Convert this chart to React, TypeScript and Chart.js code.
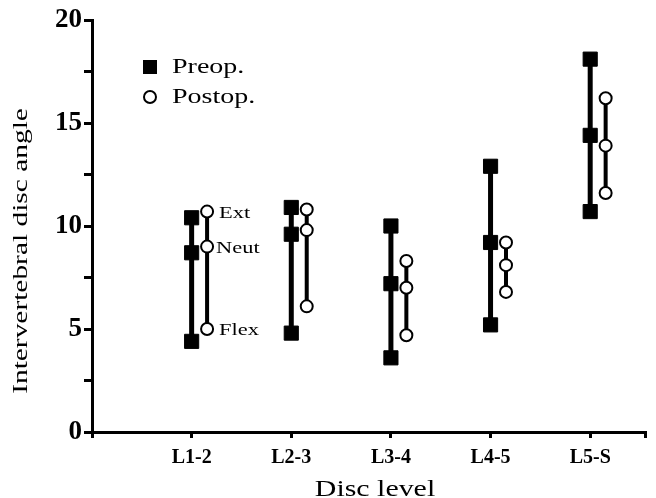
import { useEffect, useRef } from 'react';
import { Chart, registerables } from 'chart.js';

Chart.register(...registerables);

const categories = ['L1-2', 'L2-3', 'L3-4', 'L4-5', 'L5-S'];
const preopExt = [10.4, 10.9, 10.0, 12.9, 18.1];
const preopNeut = [8.7, 9.6, 7.2, 9.2, 14.4];
const preopFlex = [4.4, 4.8, 3.6, 5.2, 10.7];
const postopExt = [10.7, 10.8, 8.3, 9.2, 16.2];
const postopNeut = [9.0, 9.8, 7.0, 8.1, 13.9];
const postopFlex = [5.0, 6.1, 4.7, 6.8, 11.6];
const positionLabels = ['Ext', 'Neut', 'Flex'];
const seriesNames = ['Preop.', 'Postop.'];

const FONT = "'Liberation Serif', 'Times New Roman', serif";
const POSTOP_OFFSET = 0.155;
const X_MAX = 5.55;

function drawStretched(ctx: CanvasRenderingContext2D, text: string, x: number, y: number, font: string, sx: number, align: CanvasTextAlign) {
  ctx.save();
  ctx.translate(x, y);
  ctx.scale(sx, 1);
  ctx.font = font;
  ctx.textAlign = align;
  ctx.textBaseline = 'alphabetic';
  ctx.fillText(text, 0, 0);
  ctx.restore();
}

const overlayPlugin = {
  id: 'overlay',
  afterDraw(chart: any) {
    const ctx: CanvasRenderingContext2D = chart.ctx;
    const xs = chart.scales.x;
    const ys = chart.scales.y;
    ctx.save();
    ctx.fillStyle = '#000';
    ctx.strokeStyle = '#000';

    // y title
    ctx.save();
    ctx.translate(27, 251);
    ctx.rotate(-Math.PI / 2);
    ctx.scale(1.4, 1);
    ctx.font = `21px ${FONT}`;
    ctx.textAlign = 'center';
    ctx.textBaseline = 'alphabetic';
    ctx.fillText('Intervertebral disc angle', 0, 0);
    ctx.restore();

    // x title
    drawStretched(ctx, 'Disc level', 375, 496, `23px ${FONT}`, 1.3, 'center');

    // legend
    ctx.fillRect(143, 60, 14, 14);
    drawStretched(ctx, seriesNames[0], 172, 73, `20px ${FONT}`, 1.4, 'left');
    ctx.beginPath();
    ctx.arc(150, 97, 6, 0, Math.PI * 2);
    ctx.fillStyle = '#fff';
    ctx.fill();
    ctx.lineWidth = 2;
    ctx.stroke();
    ctx.fillStyle = '#000';
    drawStretched(ctx, seriesNames[1], 172, 103, `20px ${FONT}`, 1.4, 'left');

    // position annotations next to first postop group
    const px = xs.getPixelForValue(1 + POSTOP_OFFSET);
    const vals = [postopExt[0], postopNeut[0], postopFlex[0]];
    const dx = [12, 9, 12];
    vals.forEach((v, i) => {
      const py = ys.getPixelForValue(v);
      drawStretched(ctx, positionLabels[i], px + dx[i], py + 6, `16px ${FONT}`, 1.4, 'left');
    });
    ctx.restore();
  },
};

export default function App() {
  const ref = useRef<HTMLCanvasElement | null>(null);

  useEffect(() => {
    if (!ref.current) return;
    const datasets: any[] = [];
    categories.forEach((_, i) => {
      datasets.push({
        label: `${seriesNames[0]} ${categories[i]}`,
        data: [
          { x: i + 1, y: preopExt[i] },
          { x: i + 1, y: preopNeut[i] },
          { x: i + 1, y: preopFlex[i] },
        ],
        showLine: true,
        borderColor: '#000',
        borderWidth: 5,
        pointStyle: 'rect',
        pointRadius: 10,
        pointBackgroundColor: '#000',
        pointBorderColor: '#000',
        pointBorderWidth: 1,
        order: 1,
      });
    });
    categories.forEach((_, i) => {
      datasets.push({
        label: `${seriesNames[1]} ${categories[i]}`,
        data: [
          { x: i + 1 + POSTOP_OFFSET, y: postopExt[i] },
          { x: i + 1 + POSTOP_OFFSET, y: postopNeut[i] },
          { x: i + 1 + POSTOP_OFFSET, y: postopFlex[i] },
        ],
        showLine: true,
        borderColor: '#000',
        borderWidth: 4,
        pointStyle: 'circle',
        pointRadius: 6,
        pointBackgroundColor: '#fff',
        pointBorderColor: '#000',
        pointBorderWidth: 2,
        order: 0,
      });
    });

    const chart = new Chart(ref.current, {
      type: 'scatter',
      data: { datasets },
      options: {
        responsive: false,
        animation: false,
        layout: { padding: { left: 0, top: 20, right: 3, bottom: 0 } },
        plugins: {
          legend: { display: false },
          tooltip: { enabled: false },
        },
        scales: {
          x: {
            type: 'linear',
            min: 0,
            max: X_MAX,
            afterBuildTicks: (scale: any) => {
              scale.ticks = [0, 1, 2, 3, 4, 5, X_MAX].map((v) => ({ value: v }));
            },
            afterFit: (scale: any) => {
              scale.height = 66;
            },
            ticks: {
              autoSkip: false,
              maxRotation: 0,
              padding: 8,
              color: '#000',
              font: { family: FONT, size: 20, weight: 'bold' },
              callback: (v: any) => {
                const n = Number(v);
                return Number.isInteger(n) && n >= 1 && n <= categories.length ? categories[n - 1] : '';
              },
            },
            grid: {
              display: true,
              drawOnChartArea: false,
              drawTicks: true,
              tickLength: 6,
              color: '#000',
              lineWidth: 3,
            },
            border: { display: true, color: '#000', width: 3 },
          },
          y: {
            type: 'linear',
            min: 0,
            max: 20,
            afterFit: (scale: any) => {
              scale.width = 92;
            },
            ticks: {
              stepSize: 2.5,
              autoSkip: false,
              padding: 2,
              color: '#000',
              font: { family: FONT, size: 27, weight: 'bold' },
              callback: (v: any) => (Number(v) % 5 === 0 ? String(v) : ''),
            },
            grid: {
              display: true,
              drawOnChartArea: false,
              drawTicks: true,
              tickLength: 8,
              color: '#000',
              lineWidth: 3,
            },
            border: { display: true, color: '#000', width: 3 },
          },
        },
      },
      plugins: [overlayPlugin],
    } as any);
    return () => chart.destroy();
  }, []);

  return (
    <div style={{ position: 'absolute', left: 0, top: 0, width: 656, height: 498, background: '#fff' }}>
      <canvas ref={ref} width={656} height={498} />
    </div>
  );
}
